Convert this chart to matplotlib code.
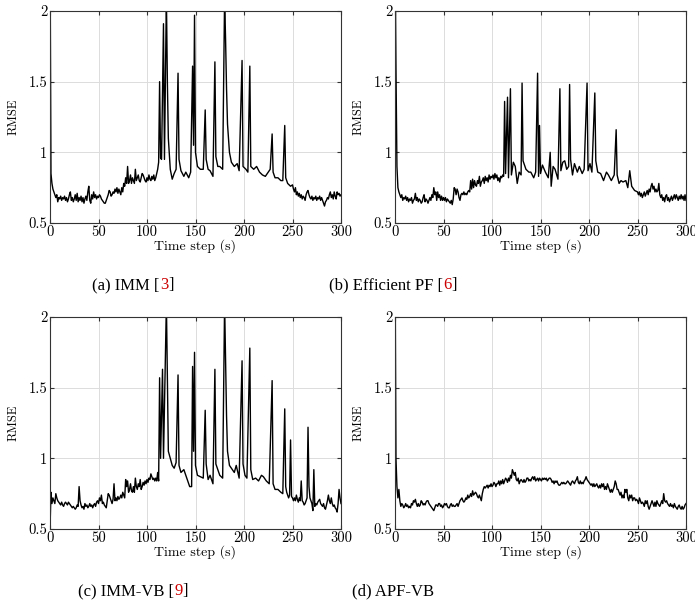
import matplotlib
matplotlib.use('Agg')
import matplotlib.pyplot as plt
from matplotlib.offsetbox import TextArea, HPacker, AnnotationBbox

plt.rcParams['font.family'] = ['Liberation Serif', 'DejaVu Serif']

# (a) IMM
t_imm = (list(range(0, 113))
         + [113, 114, 115, 117, 118, 120, 121, 122, 124, 126, 128, 130, 132, 133, 135, 138,
            140, 143, 145, 147, 148, 149, 150, 152, 155, 158, 160, 161, 163, 165, 168, 170,
            171, 173, 175, 178, 180, 181, 182, 183, 185, 187, 190, 193, 195, 198, 199, 202,
            204, 206, 207, 210, 213, 216, 219, 222, 225, 227, 229, 230, 232, 235, 238, 240,
            242, 243, 245, 248]
         + list(range(250, 301)))
y_imm = [2.5, 0.85, 0.78, 0.74, 0.72, 0.70, 0.68, 0.70, 0.65, 0.68,
         0.67, 0.69, 0.66, 0.68, 0.67, 0.69, 0.66, 0.68, 0.65, 0.67,
         0.70, 0.72, 0.66, 0.68, 0.65, 0.67, 0.70, 0.66, 0.71, 0.65,
         0.68, 0.66, 0.69, 0.65, 0.68, 0.64, 0.67, 0.69, 0.66, 0.72,
         0.76, 0.66, 0.64, 0.70, 0.67, 0.72, 0.68, 0.70, 0.67, 0.69,
         0.68, 0.70, 0.69, 0.67, 0.66, 0.65, 0.64, 0.64, 0.66, 0.68,
         0.70, 0.73, 0.72, 0.69, 0.70, 0.72, 0.71, 0.74, 0.72, 0.75,
         0.71, 0.74, 0.72, 0.70, 0.75, 0.72, 0.78, 0.76, 0.82, 0.78,
         0.90, 0.78, 0.80, 0.84, 0.78, 0.82, 0.80, 0.78, 0.88, 0.80,
         0.82, 0.84, 0.80, 0.79, 0.82, 0.85, 0.84, 0.82, 0.80, 0.79,
         0.82, 0.80, 0.84, 0.81, 0.80, 0.83, 0.81, 0.84, 0.80, 0.82,
         0.85, 0.88, 0.93,
         1.50, 0.96, 0.95, 1.91, 0.95, 2.10, 1.50, 1.10, 0.88, 0.81,
         0.85, 0.88, 1.56, 0.95, 0.87, 0.83, 0.86, 0.82, 0.86, 1.61,
         1.05, 1.97, 1.00, 0.90, 0.88, 0.88, 1.30, 0.95, 0.88, 0.87,
         0.83, 1.64, 0.97, 0.90, 0.90, 0.88, 2.10, 1.80, 1.45, 1.20,
         1.00, 0.93, 0.90, 0.92, 0.87, 1.65, 0.90, 0.88, 0.86, 1.61,
         0.90, 0.88, 0.90, 0.86, 0.84, 0.83, 0.86, 0.88, 1.13, 0.86,
         0.82, 0.82, 0.80, 0.80, 1.19, 0.82, 0.78, 0.76,
         0.77, 0.74, 0.72, 0.75, 0.70, 0.72, 0.69, 0.71, 0.68, 0.70,
         0.67, 0.69, 0.68, 0.66, 0.70, 0.72, 0.73, 0.70, 0.68, 0.67,
         0.69, 0.66, 0.68, 0.67, 0.69, 0.66, 0.68, 0.67, 0.69, 0.66,
         0.68, 0.66, 0.64, 0.62, 0.65, 0.66, 0.68, 0.67, 0.70, 0.72,
         0.68, 0.70, 0.67, 0.72, 0.69, 0.67, 0.72, 0.70, 0.71, 0.69,
         0.70]

# (b) Efficient PF
t_epf = (list(range(0, 113))
         + [113, 114, 116, 117, 119, 120, 122, 124, 126, 128, 130, 131, 132, 135, 138, 140,
            143, 145, 147, 148, 149, 150, 152, 155, 158, 160, 161, 163, 165, 168, 170, 171,
            173, 175, 177, 179, 180, 181, 183, 185, 188, 190, 193, 195, 198, 199, 201, 203,
            206, 207, 209, 212, 215, 218, 220, 223, 226, 228, 229, 231, 233, 235, 238, 240,
            242, 244, 247]
         + list(range(250, 301)))
y_epf = [2.5, 1.60, 0.90, 0.75, 0.72, 0.70, 0.68, 0.70, 0.66, 0.68,
         0.67, 0.69, 0.66, 0.68, 0.65, 0.67, 0.66, 0.68, 0.64, 0.66,
         0.67, 0.71, 0.66, 0.68, 0.65, 0.67, 0.66, 0.64, 0.65, 0.68,
         0.70, 0.65, 0.67, 0.66, 0.64, 0.66, 0.68, 0.66, 0.70, 0.68,
         0.75, 0.70, 0.72, 0.66, 0.72, 0.68, 0.70, 0.66, 0.69, 0.66,
         0.68, 0.66, 0.68, 0.65, 0.67, 0.66, 0.65, 0.64, 0.66, 0.63,
         0.67, 0.75, 0.74, 0.70, 0.74, 0.72, 0.68, 0.66, 0.70, 0.71,
         0.70, 0.72, 0.70, 0.71, 0.70, 0.72, 0.73, 0.72, 0.80, 0.74,
         0.81, 0.75, 0.80, 0.77, 0.76, 0.80, 0.78, 0.83, 0.76, 0.79,
         0.80, 0.82, 0.78, 0.83, 0.80, 0.82, 0.79, 0.84, 0.81, 0.83,
         0.82, 0.84, 0.81, 0.85, 0.82, 0.84, 0.80, 0.82, 0.79, 0.83,
         0.82, 0.84, 0.83,
         1.36, 0.85, 1.39, 0.82, 1.45, 0.84, 0.93, 0.90, 0.78, 0.86,
         0.84, 1.49, 0.94, 0.88, 0.86, 0.86, 0.82, 0.86, 1.56, 0.83,
         1.19, 0.85, 0.91, 0.86, 0.82, 1.00, 0.76, 0.90, 0.88, 0.81,
         1.45, 0.87, 0.93, 0.94, 0.88, 0.90, 1.48, 0.95, 0.84, 0.92,
         0.86, 0.90, 0.85, 0.88, 1.49, 0.87, 0.92, 0.86, 1.42, 0.94,
         0.86, 0.85, 0.80, 0.86, 0.84, 0.80, 0.84, 1.16, 0.84, 0.78,
         0.80, 0.79, 0.80, 0.75, 0.87, 0.76, 0.73,
         0.72, 0.70, 0.72, 0.69, 0.71, 0.68, 0.70, 0.72, 0.69, 0.71,
         0.73, 0.70, 0.74, 0.72, 0.76, 0.78, 0.74, 0.76, 0.72, 0.74,
         0.72, 0.73, 0.78, 0.70, 0.68, 0.70, 0.66, 0.68, 0.65, 0.69,
         0.70, 0.66, 0.68, 0.65, 0.67, 0.69, 0.66, 0.68, 0.70, 0.67,
         0.70, 0.68, 0.66, 0.69, 0.67, 0.70, 0.67, 0.69, 0.66, 0.70,
         0.66]

# (c) IMM-VB
t_immvb = (list(range(0, 113))
           + [113, 114, 116, 117, 120, 121, 122, 124, 126, 128, 130, 132, 133, 135, 138, 140,
              143, 144, 146, 147, 148, 149, 150, 152, 155, 158, 160, 161, 163, 165, 168, 170,
              171, 173, 175, 178, 180, 181, 182, 183, 185, 188, 190, 192, 195, 198, 199, 201,
              203, 206, 207, 209, 212, 215, 218, 220, 223, 226, 229, 230, 232, 235, 238, 240,
              242, 243, 244, 245, 246, 247, 248, 249]
           + list(range(250, 301)))
y_immvb = [0.50, 0.76, 0.68, 0.72, 0.70, 0.68, 0.75, 0.72, 0.70, 0.69,
           0.68, 0.67, 0.69, 0.67, 0.66, 0.68, 0.69, 0.68, 0.67, 0.69,
           0.68, 0.67, 0.66, 0.65, 0.66, 0.65, 0.64, 0.65, 0.67, 0.66,
           0.80, 0.70, 0.67, 0.65, 0.66, 0.64, 0.68, 0.66, 0.67, 0.65,
           0.66, 0.68, 0.66, 0.67, 0.65, 0.67, 0.68, 0.66, 0.69, 0.70,
           0.68, 0.72, 0.70, 0.74, 0.68, 0.69, 0.67, 0.66, 0.65, 0.70,
           0.75, 0.74, 0.72, 0.70, 0.68, 0.71, 0.82, 0.70, 0.72, 0.70,
           0.73, 0.71, 0.72, 0.74, 0.72, 0.76, 0.74, 0.72, 0.85, 0.80,
           0.84, 0.76, 0.78, 0.82, 0.77, 0.76, 0.80, 0.76, 0.86, 0.80,
           0.78, 0.82, 0.80, 0.85, 0.78, 0.80, 0.83, 0.81, 0.84, 0.82,
           0.85, 0.83, 0.86, 0.85, 0.89, 0.87, 0.85, 0.86, 0.84, 0.86,
           0.84, 0.90, 0.84,
           1.57, 1.00, 1.63, 1.00, 2.10, 1.60, 1.05, 1.00, 0.95, 0.93,
           0.97, 1.59, 0.95, 0.90, 0.92, 0.88, 0.82, 0.80, 0.80, 1.65,
           1.05, 1.75, 0.95, 0.88, 0.87, 0.86, 1.34, 0.96, 0.85, 0.88,
           0.82, 1.63, 0.96, 0.92, 0.88, 0.86, 2.10, 1.70, 1.30, 1.05,
           0.95, 0.92, 0.90, 0.95, 0.86, 1.69, 0.96, 0.88, 0.86, 1.78,
           0.92, 0.85, 0.86, 0.84, 0.88, 0.87, 0.84, 0.82, 1.55, 0.82,
           0.78, 0.78, 0.76, 0.75,
           1.35, 0.80, 0.76, 0.74, 0.72, 0.74, 1.13, 0.73,
           0.72, 0.70, 0.72, 0.70, 0.74, 0.71, 0.69, 0.72, 0.70, 0.84,
           0.70, 0.69, 0.67, 0.68, 0.70, 0.72, 1.22, 0.80, 0.72, 0.70,
           0.68, 0.63, 0.92, 0.66, 0.68, 0.67, 0.69, 0.70, 0.71, 0.68,
           0.67, 0.66, 0.68, 0.65, 0.64, 0.67, 0.70, 0.74, 0.70, 0.68,
           0.72, 0.68, 0.66, 0.67, 0.65, 0.64, 0.62, 0.68, 0.78, 0.72,
           0.68]

# (d) APF-VB
t_apf = list(range(0, 301))
y_apf = [2.5, 1.00, 0.80, 0.72, 0.78, 0.70, 0.66, 0.68, 0.67, 0.65,
         0.66, 0.68, 0.66, 0.67, 0.65, 0.66, 0.65, 0.68, 0.67, 0.70,
         0.69, 0.71, 0.68, 0.66, 0.68, 0.66, 0.67, 0.70, 0.69, 0.67,
         0.68, 0.67, 0.69, 0.70, 0.70, 0.68, 0.67, 0.66, 0.65, 0.64,
         0.63, 0.65, 0.67, 0.67, 0.66, 0.68, 0.68, 0.66, 0.67, 0.65,
         0.66, 0.68, 0.67, 0.68, 0.66, 0.65, 0.65, 0.67, 0.68, 0.66,
         0.67, 0.66, 0.66, 0.67, 0.68, 0.66, 0.68, 0.70, 0.71, 0.72,
         0.70, 0.69, 0.70, 0.72, 0.71, 0.74, 0.72, 0.73, 0.75, 0.73,
         0.77, 0.74, 0.75, 0.76, 0.75, 0.73, 0.72, 0.74, 0.72, 0.70,
         0.75, 0.78, 0.80, 0.79, 0.80, 0.81, 0.79, 0.81, 0.80, 0.82,
         0.80, 0.81, 0.83, 0.82, 0.80, 0.82, 0.82, 0.84, 0.81, 0.84,
         0.82, 0.85, 0.82, 0.84, 0.86, 0.85, 0.83, 0.86, 0.84, 0.88,
         0.86, 0.92, 0.90, 0.88, 0.90, 0.85, 0.84, 0.86, 0.82, 0.84,
         0.85, 0.84, 0.83, 0.85, 0.83, 0.84, 0.86, 0.86, 0.84, 0.85,
         0.84, 0.86, 0.87, 0.85, 0.87, 0.84, 0.85, 0.86, 0.84, 0.86,
         0.85, 0.84, 0.86, 0.85, 0.86, 0.85, 0.86, 0.84, 0.85, 0.86,
         0.86, 0.85, 0.83, 0.84, 0.82, 0.84, 0.83, 0.84, 0.82, 0.81,
         0.81, 0.82, 0.83, 0.82, 0.83, 0.82, 0.82, 0.83, 0.84, 0.83,
         0.82, 0.81, 0.83, 0.84, 0.83, 0.82, 0.84, 0.85, 0.87, 0.83,
         0.82, 0.84, 0.82, 0.83, 0.82, 0.84, 0.85, 0.87, 0.85, 0.84,
         0.83, 0.82, 0.81, 0.82, 0.80, 0.82, 0.80, 0.81, 0.82, 0.80,
         0.79, 0.81, 0.79, 0.82, 0.80, 0.82, 0.78, 0.80, 0.78, 0.82,
         0.80, 0.78, 0.76, 0.78, 0.76, 0.78, 0.80, 0.84, 0.82, 0.78,
         0.78, 0.76, 0.74, 0.76, 0.72, 0.74, 0.72, 0.78, 0.76, 0.78,
         0.72, 0.70, 0.74, 0.72, 0.74, 0.70, 0.72, 0.72, 0.70, 0.71,
         0.70, 0.68, 0.72, 0.70, 0.68, 0.69, 0.68, 0.66, 0.70, 0.68,
         0.70, 0.66, 0.64, 0.66, 0.68, 0.70, 0.68, 0.66, 0.69, 0.66,
         0.70, 0.68, 0.67, 0.66, 0.68, 0.70, 0.68, 0.75, 0.70, 0.69,
         0.70, 0.68, 0.67, 0.66, 0.68, 0.66, 0.67, 0.65, 0.68, 0.66,
         0.65, 0.64, 0.66, 0.67, 0.65, 0.64, 0.66, 0.64, 0.65, 0.67,
         0.68]

x_ticks = [0, 50, 100, 150, 200, 250, 300]
y_ticks = [0.5, 1, 1.5, 2]
y_ticklabels = ['0.5', '1', '1.5', '2']

panels = [
    (t_imm, y_imm, [50, 11], ['(a) IMM [', '3', ']'], [133, 285]),
    (t_epf, y_epf, [395, 11], ['(b) Efficient PF [', '6', ']'], [393, 285]),
    (t_immvb, y_immvb, [50, 317], ['(c) IMM-VB [', '9', ']'], [133, 591]),
    (t_apf, y_apf, [395, 317], ['(d) APF-VB', '', ''], [393, 591]),
]

W, H = 695., 605.
fig = plt.figure(figsize=(W / 100, H / 100), dpi=100)

for t, y, (px, py), cap, (cx, cy) in panels:
    ax = fig.add_axes([px / W, 1 - (py + 212) / H, 291 / W, 212 / H])
    ax.plot(t, y, color='k', lw=1.0)
    ax.set_xlim(0, 300)
    ax.set_ylim(0.5, 2)
    ax.set_xticks(x_ticks)
    ax.set_yticks(y_ticks)
    ax.set_yticklabels(y_ticklabels)
    ax.grid(True, color='#dcdcdc', lw=0.7)
    ax.set_axisbelow(True)
    ax.tick_params(direction='in', top=True, right=True, length=3,
                   labelsize=10.5, color='#333333', pad=2)
    for lab in ax.get_xticklabels() + ax.get_yticklabels():
        lab.set_family('cmr10')
    for s in ax.spines.values():
        s.set_color('#333333')
        s.set_linewidth(0.8)
    ax.set_xlabel('Time step (s)', fontsize=10, labelpad=0, family='cmr10')
    ax.set_ylabel('RMSE', fontsize=9, labelpad=6, family='cmr10')

    parts = [TextArea(cap[0], textprops=dict(fontsize=12, color='k'))]
    if cap[1]:
        parts.append(TextArea(cap[1], textprops=dict(fontsize=12, color='#cc0000')))
        parts.append(TextArea(cap[2], textprops=dict(fontsize=12, color='k')))
    box = HPacker(children=parts, pad=0, sep=0)
    ab = AnnotationBbox(box, (cx / W, 1 - cy / H), xycoords='figure fraction',
                        frameon=False, box_alignment=(0.5, 0.5))
    fig.add_artist(ab)

fig.savefig('out.png', dpi=100)
